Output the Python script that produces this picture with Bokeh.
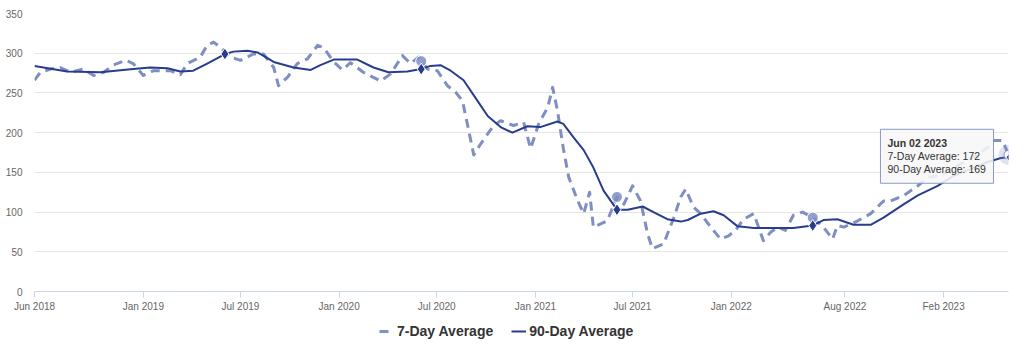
from datetime import timedelta
import pandas as pd
from bokeh.plotting import figure
from bokeh.layouts import column
from bokeh.models import (Range1d, FixedTicker, DatetimeTickFormatter, Legend,
                          LegendItem, BoxAnnotation, Label, ColumnDataSource)
from bokeh.embed import file_html
from bokeh.resources import INLINE

# ---------------- data ----------------
dates7 = ["2018-06-12", "2018-06-23", "2018-07-12", "2018-07-30", "2018-08-18", "2018-09-11",
          "2018-09-30", "2018-10-19", "2018-11-06", "2018-11-29", "2018-12-13", "2019-01-01",
          "2019-01-20", "2019-02-20", "2019-03-11", "2019-03-24", "2019-04-17", "2019-04-30",
          "2019-05-12", "2019-05-25", "2019-06-13", "2019-07-01", "2019-07-25", "2019-08-13",
          "2019-09-01", "2019-09-10", "2019-09-27", "2019-10-15", "2019-11-03", "2019-11-22",
          "2019-12-03", "2019-12-22", "2020-01-07", "2020-01-22", "2020-02-15", "2020-03-18",
          "2020-04-06", "2020-04-28", "2020-05-13", "2020-05-28", "2020-06-14", "2020-07-02",
          "2020-07-21", "2020-08-05", "2020-08-18", "2020-08-27", "2020-09-08", "2020-09-21",
          "2020-10-15", "2020-10-28", "2020-11-21", "2020-12-10", "2020-12-23", "2021-01-07",
          "2021-01-24", "2021-02-02", "2021-02-11", "2021-02-22", "2021-03-04", "2021-03-21",
          "2021-04-01", "2021-04-12", "2021-04-19", "2021-05-15", "2021-06-02", "2021-06-15",
          "2021-07-01", "2021-07-16", "2021-07-29", "2021-08-07", "2021-08-28", "2021-09-16",
          "2021-09-29", "2021-10-08", "2021-10-23", "2021-11-05", "2021-11-24", "2021-12-12",
          "2021-12-27", "2022-01-09", "2022-01-24", "2022-02-12", "2022-03-02", "2022-03-16",
          "2022-03-29", "2022-04-12", "2022-04-27", "2022-05-14", "2022-06-02", "2022-06-22",
          "2022-07-09", "2022-07-18", "2022-07-30", "2022-08-25", "2022-09-18", "2022-10-12",
          "2022-10-25", "2022-11-19", "2022-12-15", "2023-01-02", "2023-01-27", "2023-02-20",
          "2023-03-23", "2023-04-24", "2023-05-05", "2023-05-22", "2023-06-02"]
avg7 = [266, 276, 280, 282, 276, 280,
        272, 276, 285, 291, 287, 272,
        278, 278, 273, 287, 295, 310,
        314, 307, 295, 291, 299, 299,
        282, 259, 270, 287, 293, 310,
        307, 289, 279, 288, 276, 265,
        274, 297, 287, 295, 280, 278,
        259, 251, 240, 211, 172, 186,
        209, 215, 209, 213, 180, 211,
        232, 257, 228, 180, 144, 114,
        98, 125, 81, 89, 119, 110,
        133, 114, 73, 54, 60, 93,
        119, 129, 106, 98, 81, 66,
        70, 77, 91, 98, 64, 75,
        81, 77, 96, 100, 93, 81,
        66, 83, 81, 89, 98, 114,
        114, 121, 133, 144, 146, 156,
        167, 181, 190, 190, 172]

dates90 = ["2018-06-12", "2018-08-12", "2018-10-13", "2018-12-13", "2019-01-14", "2019-02-15",
           "2019-03-11", "2019-04-04", "2019-04-30", "2019-06-02", "2019-06-18", "2019-07-14",
           "2019-08-02", "2019-09-01", "2019-10-08", "2019-11-09", "2019-11-27", "2019-12-22",
           "2020-01-22", "2020-02-04", "2020-03-05", "2020-04-02", "2020-05-07", "2020-06-02",
           "2020-06-19", "2020-07-08", "2020-07-27", "2020-08-20", "2020-09-15", "2020-10-04",
           "2020-10-28", "2020-11-19", "2020-12-17", "2021-01-10", "2021-02-11", "2021-02-22",
           "2021-03-13", "2021-04-01", "2021-04-19", "2021-05-08", "2021-06-02", "2021-06-22",
           "2021-07-20", "2021-08-09", "2021-09-04", "2021-09-29", "2021-10-12", "2021-11-05",
           "2021-11-29", "2021-12-18", "2022-01-13", "2022-02-12", "2022-03-16", "2022-04-27",
           "2022-06-02", "2022-06-22", "2022-07-18", "2022-08-17", "2022-09-18", "2022-10-12",
           "2022-11-19", "2022-12-15", "2023-01-21", "2023-02-20", "2023-03-23", "2023-04-24",
           "2023-05-19", "2023-06-02"]
avg90 = [284, 277, 276, 280, 282, 281,
         277, 278, 287, 299, 302, 303,
         301, 289, 282, 279, 285, 292,
         292, 292, 282, 276, 277, 280,
         284, 285, 278, 266, 240, 221,
         207, 200, 208, 207, 214, 211,
         194, 178, 156, 127, 103, 103,
         107, 100, 91, 88, 90, 98,
         101, 96, 82, 80, 80, 80,
         83, 90, 91, 84, 84, 93,
         110, 121, 133, 146, 154, 163,
         168, 169]

# same-day markers in earlier years
marker_dates90 = ["2019-06-02", "2020-06-02", "2021-06-02", "2022-06-02"]
marker_vals90 = [299, 280, 103, 83]
marker_dates7 = ["2020-06-02", "2021-06-02", "2022-06-02"]
marker_vals7 = [290, 119, 93]

hover_date = "2023-06-02"
hover7 = 172
hover90 = 169

tick_dates = ["2018-06-12", "2019-01-01", "2019-07-01", "2020-01-01", "2020-07-01",
              "2021-01-01", "2021-07-01", "2022-01-01", "2022-08-01", "2023-02-01"]
y_ticks = [0, 50, 100, 150, 200, 250, 300, 350]

series_names = ["7-Day Average", "90-Day Average"]

# ---------------- styling ----------------
FONT = "Liberation Sans"
C7 = "#7f8ec3"
C90 = "#283d8c"
STYLE7 = dict(line_color=C7, line_width=3, line_dash="9 6", line_join="round")
STYLE90 = dict(line_color=C90, line_width=2, line_join="round")


def ms(d):
    return pd.Timestamp(d).value // 10**6


x0 = pd.Timestamp(dates7[0])
x1 = pd.Timestamp(hover_date)

p = figure(frame_width=974, frame_height=278, x_axis_type="datetime",
           output_backend="svg", toolbar_location=None,
           x_range=Range1d(x0, x1), y_range=Range1d(0, 350))
p.min_border_left = 34
p.min_border_right = 16
p.min_border_top = 13
p.min_border_bottom = 27
p.outline_line_color = None
p.background_fill_color = "white"
p.border_fill_color = "white"

# axes
p.xaxis.ticker = FixedTicker(ticks=[ms(d) for d in tick_dates])
p.xaxis.formatter = DatetimeTickFormatter(
    microseconds="%b %Y", milliseconds="%b %Y", seconds="%b %Y", minsec="%b %Y",
    minutes="%b %Y", hourmin="%b %Y", hours="%b %Y", days="%b %Y",
    months="%b %Y", years="%b %Y")
p.xaxis.axis_line_color = "#ccd6eb"
p.xaxis.major_tick_line_color = "#ccd6eb"
p.xaxis.major_tick_out = 6
p.xaxis.major_tick_in = 0
p.xaxis.minor_tick_line_color = None
p.xaxis.major_label_standoff = 3
p.xaxis.major_label_text_font = FONT
p.xaxis.major_label_text_font_size = "10px"
p.xaxis.major_label_text_color = "#666666"

p.yaxis.ticker = FixedTicker(ticks=y_ticks)
p.yaxis.axis_line_color = None
p.yaxis.major_tick_line_color = None
p.yaxis.major_tick_out = 0
p.yaxis.major_tick_in = 0
p.yaxis.minor_tick_line_color = None
p.yaxis.major_label_standoff = 12
p.yaxis.major_label_text_font = FONT
p.yaxis.major_label_text_font_size = "10px"
p.yaxis.major_label_text_color = "#666666"

p.xgrid.visible = False
p.ygrid.grid_line_color = "#e6e6e6"
p.ygrid.grid_line_width = 1

# series
src7 = ColumnDataSource(dict(x=pd.to_datetime(dates7), y=avg7))
src90 = ColumnDataSource(dict(x=pd.to_datetime(dates90), y=avg90))

p.line("x", "y", source=src7, **STYLE7)
p.line("x", "y", source=src90, **STYLE90)

p.scatter(pd.to_datetime(marker_dates7), marker_vals7, marker="circle", size=11,
          fill_color=C7, line_color="white", line_width=1, fill_alpha=0.85)
p.scatter(pd.to_datetime(marker_dates90), marker_vals90, marker="diamond", size=12,
          fill_color=C90, line_color="white", line_width=1)

# hovered point
hd = pd.to_datetime([hover_date])
p.scatter(hd, [hover7], marker="circle", size=20, fill_color=C7, fill_alpha=0.25,
          line_color=None)
p.scatter(hd, [hover7], marker="circle", size=9, fill_color="white",
          line_color=C7, line_width=1)
p.scatter(hd, [hover90], marker="diamond", size=7, fill_color=C90,
          line_color="white", line_width=1)

# tooltip (positioned relative to the hovered point)
DAYS_PER_PX = 1.865
UNITS_PER_PX = 350 / 278.0
box_left = x1 - timedelta(days=128 * DAYS_PER_PX)
box_right = x1 - timedelta(days=15 * DAYS_PER_PX)
box_top = hover90 + 28 * UNITS_PER_PX
box_bottom = hover90 - 26 * UNITS_PER_PX
p.add_layout(BoxAnnotation(left=box_left, right=box_right, top=box_top, bottom=box_bottom,
                           fill_color="#f7f7f7", fill_alpha=0.88,
                           line_color=C7, line_width=1, line_alpha=0.9))
tip_lines = [(pd.Timestamp(hover_date).strftime("%b %d %Y"), "bold", -8),
             (f"{series_names[0]}: {hover7}", "normal", -21),
             (f"{series_names[1]}: {hover90}", "normal", -34)]
for txt, style, yoff in tip_lines:
    p.add_layout(Label(x=box_left, y=box_top, x_offset=7, y_offset=yoff, text=txt,
                       text_font=FONT, text_font_size="10.5px", text_font_style=style,
                       text_color="#333333", text_baseline="top", text_align="left"))

# legend strip under the chart: same series, drawn outside its visible y range
lg = figure(width=1024, height=33, output_backend="svg", toolbar_location=None,
            x_axis_location=None, y_axis_location=None, x_axis_type="datetime",
            x_range=Range1d(x0, x1), y_range=Range1d(1000, 1001))
lg.min_border = 0
lg.outline_line_color = None
lg.grid.visible = False
lg.background_fill_color = "white"
lg.border_fill_color = "white"
k7 = lg.line("x", "y", source=src7, **STYLE7)
k90 = lg.line("x", "y", source=src90, **STYLE90)
legend = Legend(items=[LegendItem(label=series_names[0], renderers=[k7]),
                       LegendItem(label=series_names[1], renderers=[k90])],
                orientation="horizontal", location=(345, 12),
                label_text_font=FONT, label_text_font_size="14px",
                label_text_font_style="bold", label_text_color="#333333",
                glyph_width=15, glyph_height=14, label_standoff=3, spacing=18,
                padding=0, margin=0, border_line_color=None,
                background_fill_alpha=0)
lg.add_layout(legend, "center")

layout = column(p, lg, spacing=0)
open("out.html", "w").write(file_html(layout, INLINE))
